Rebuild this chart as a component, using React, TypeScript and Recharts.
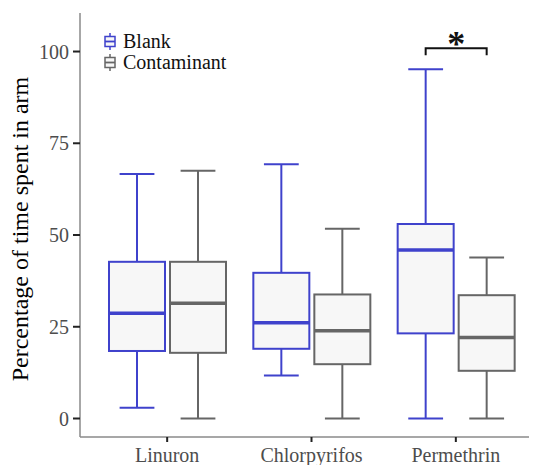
import { BarChart, Bar, XAxis, YAxis } from "recharts";

// Box-plot summaries (percentage of time spent in arm)
const categories = ["Linuron", "Chlorpyrifos", "Permethrin"];

const blankMin = [2.9, 11.7, 0];
const blankQ1 = [18.4, 19.0, 23.2];
const blankMedian = [28.7, 26.1, 45.9];
const blankQ3 = [42.7, 39.7, 53.0];
const blankMax = [66.6, 69.3, 95.2];

const contMin = [0, 0, 0];
const contQ1 = [17.9, 14.8, 13.0];
const contMedian = [31.4, 23.9, 22.1];
const contQ3 = [42.7, 33.8, 33.6];
const contMax = [67.5, 51.7, 43.9];

// significance bracket (Permethrin only)
const sigFlags = [false, false, true];
const sigLevel = 100.9;
const sigTip = 99.0;

const yTicks = [0, 25, 50, 75, 100];

const BLUE = "#3f42cc";
const GREY = "#666666";
const FILL = "#f7f7f7";
const SERIF = "Liberation Serif";

const data = categories.map((name, i) => ({
  name,
  blankMin: blankMin[i], blankQ1: blankQ1[i], blankMedian: blankMedian[i],
  blankQ3: blankQ3[i], blankMax: blankMax[i],
  contMin: contMin[i], contQ1: contQ1[i], contMedian: contMedian[i],
  contQ3: contQ3[i], contMax: contMax[i],
  blankRange: [blankMin[i], blankMax[i]],
  contRange: [contMin[i], contMax[i]],
  sig: sigFlags[i],
}));

const BAR_GAP = 3;

function makeBox(prefix: "blank" | "cont", color: string) {
  return (props: any) => {
    const { x, y, width, height, payload } = props;
    const lo = payload[prefix + "Min"];
    const hi = payload[prefix + "Max"];
    // map a value into pixel space using the bar's own (scaled) extent
    const py = (v: number) => y + (height * (hi - v)) / (hi - lo);
    const cx = x + width / 2;
    const cap = width * 0.3;
    const q1 = py(payload[prefix + "Q1"]);
    const q3 = py(payload[prefix + "Q3"]);
    const med = py(payload[prefix + "Median"]);
    const top = py(hi);
    const bot = py(lo);

    let sig = null;
    if (prefix === "cont" && payload.sig) {
      const bx = cx - (width + BAR_GAP);
      const ly = py(sigLevel);
      const ty = py(sigTip);
      sig = (
        <g>
          <path d={`M${bx},${ty} V${ly} H${cx} V${ty}`} fill="none" stroke="#111" strokeWidth={2} />
          <text x={(bx + cx) / 2} y={ly + 8} textAnchor="middle" fontSize={36} fontWeight="bold"
            fontFamily={SERIF} fill="#111">*</text>
        </g>
      );
    }

    return (
      <g>
        <line x1={cx} x2={cx} y1={top} y2={q3} stroke={color} strokeWidth={2} />
        <line x1={cx} x2={cx} y1={q1} y2={bot} stroke={color} strokeWidth={2} />
        <line x1={cx - cap} x2={cx + cap} y1={top} y2={top} stroke={color} strokeWidth={2} />
        <line x1={cx - cap} x2={cx + cap} y1={bot} y2={bot} stroke={color} strokeWidth={2} />
        <rect x={x + 1} y={q3} width={width - 2} height={q1 - q3} fill={FILL} stroke={color} strokeWidth={2} />
        <line x1={x + 1} x2={x + width - 1} y1={med} y2={med} stroke={color} strokeWidth={3.5} />
        {sig}
      </g>
    );
  };
}

function YLabel(props: any) {
  const vb = props.viewBox || { y: 5, height: 424 };
  const x = 20;
  const y = vb.y + vb.height / 2 + 4;
  return (
    <text x={x} y={y} transform={`rotate(-90 ${x} ${y})`} textAnchor="middle"
      fontSize={24} fontFamily={SERIF} fill="#000">
      Percentage of time spent in arm
    </text>
  );
}

function LegendIcon({ color }: { color: string }) {
  return (
    <svg width={12} height={17} style={{ display: "block" }}>
      <line x1={6} x2={6} y1={0} y2={17} stroke={color} strokeWidth={1.5} />
      <rect x={1} y={3.5} width={10} height={10} fill={FILL} stroke={color} strokeWidth={1.5} />
      <line x1={1} x2={11} y1={8.5} y2={8.5} stroke={color} strokeWidth={1.8} />
    </svg>
  );
}

const legendItems = [
  { label: "Blank", color: BLUE },
  { label: "Contaminant", color: GREY },
];

export default function App() {
  return (
    <div style={{ position: "relative", width: 529, height: 457 }}>
      <BarChart
        width={529}
        height={457}
        data={data}
        margin={{ top: 5, right: 0, bottom: 0, left: 0 }}
        barSize={58}
        barGap={BAR_GAP}
      >
        <XAxis
          dataKey="name"
          height={28}
          padding={{ left: 15, right: 9 }}
          axisLine={{ stroke: "#8a8a8a", strokeWidth: 1.5 }}
          tickLine={{ stroke: "#222", strokeWidth: 2 }}
          tickSize={5}
          tickMargin={6}
          tick={{ fill: "#4d4d4d", fontSize: 20, fontFamily: SERIF }}
        />
        <XAxis
          xAxisId="top"
          orientation="top"
          dataKey="name"
          height={0}
          tick={false}
          tickLine={false}
          axisLine={{ stroke: "#8a8a8a", strokeWidth: 1.5 }}
        />
        <YAxis
          width={72}
          type="number"
          domain={[-5.04, 110.5]}
          ticks={yTicks}
          allowDataOverflow
          axisLine={{ stroke: "#8a8a8a", strokeWidth: 1.5 }}
          tickLine={{ stroke: "#222", strokeWidth: 2 }}
          tickSize={7}
          tickMargin={4}
          tick={{ fill: "#4d4d4d", fontSize: 20, fontFamily: SERIF }}
          label={<YLabel />}
        />
        <Bar dataKey="blankRange" shape={makeBox("blank", BLUE)} isAnimationActive={false} />
        <Bar dataKey="contRange" shape={makeBox("cont", GREY)} isAnimationActive={false} />
      </BarChart>
      <div style={{ position: "absolute", left: 96, top: 23, fontFamily: SERIF, fontSize: 20, color: "#111" }}>
        {legendItems.map((it) => (
          <div key={it.label} style={{ display: "flex", alignItems: "center", height: 21, lineHeight: "21px" }}>
            <LegendIcon color={it.color} />
            <span style={{ marginLeft: 7 }}>{it.label}</span>
          </div>
        ))}
      </div>
    </div>
  );
}
